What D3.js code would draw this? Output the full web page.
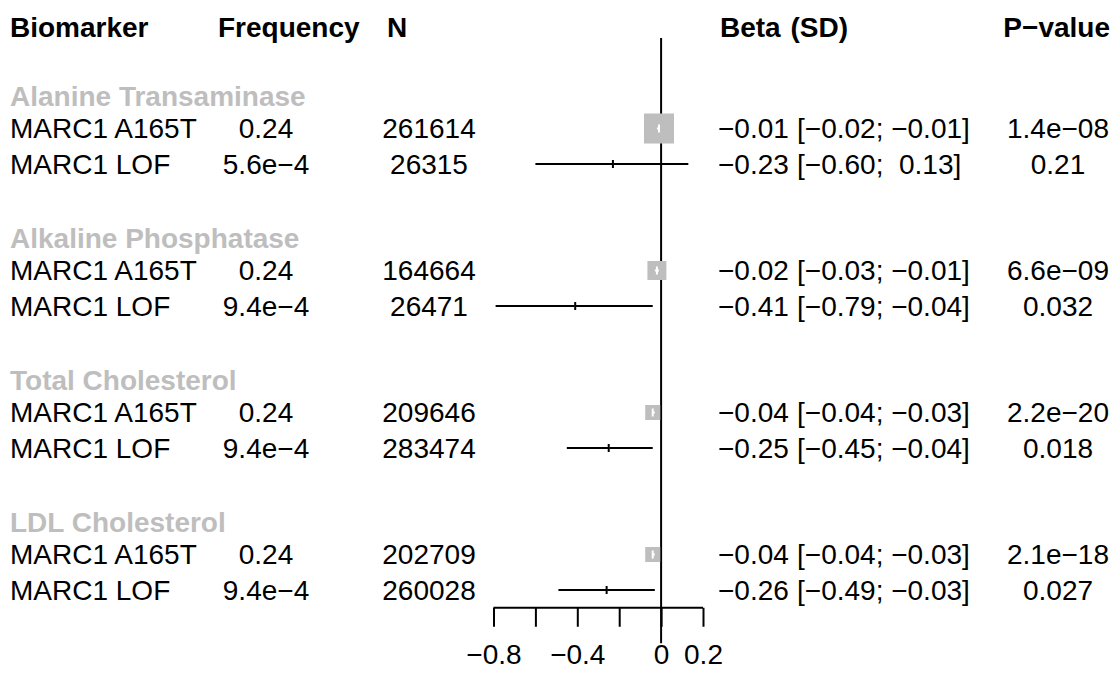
<!DOCTYPE html>
<html>
<head>
<meta charset="utf-8">
<script src="https://cdn.jsdelivr.net/npm/d3@7"></script>
<style>
  html, body { margin: 0; padding: 0; background: #fff; }
  svg text { font-family: "Liberation Sans", Arial, Helvetica, sans-serif; white-space: pre; }
</style>
</head>
<body>
<svg id="chart" width="1119" height="677"></svg>
<script>
// ---------- data ----------
const headers = ["Biomarker", "Frequency", "N", "Beta", "(SD)", "P\u2212value"];
const groups = ["Alanine Transaminase", "Alkaline Phosphatase", "Total Cholesterol", "LDL Cholesterol"];
const variants = ["MARC1 A165T", "MARC1 LOF"];
const freq = ["0.24", "5.6e\u22124", "0.24", "9.4e\u22124", "0.24", "9.4e\u22124", "0.24", "9.4e\u22124"];
const nObs = [261614, 26315, 164664, 26471, 209646, 283474, 202709, 260028];
const beta = [-0.01, -0.23, -0.02, -0.41, -0.04, -0.25, -0.04, -0.26];
const lower = [-0.02, -0.60, -0.03, -0.79, -0.04, -0.45, -0.04, -0.49];
const upper = [-0.01, 0.13, -0.01, -0.04, -0.03, -0.04, -0.03, -0.03];
const pval = ["1.4e\u221208", "0.21", "6.6e\u221209", "0.032", "2.2e\u221220", "0.018", "2.1e\u221218", "0.027"];
const weight = [1, 0.001, 0.40, 0.001, 0.25, 0.001, 0.25, 0.001];
const axisTicks = [-0.8, -0.6, -0.4, -0.2, 0, 0.2];
const axisLabels = [-0.8, -0.4, 0, 0.2];

// ---------- layout ----------
const svg = d3.select("#chart");
const FS = 28;
const rowH = 35.5, y0 = 22;
const yRow = r => y0 + r * rowH;
const x = d3.scaleLinear().domain([-0.8, 0.2]).range([493.5, 703]);
const boxSize = d3.scaleSqrt().domain([0, 1]).range([0, 30]);
const grey = "#bebebe";
const fmtNum = v => (v < 0 ? "\u2212" : "") + Math.abs(v).toFixed(2);

// build row list
const rows = [];
groups.forEach((g, gi) => {
  const base = 2 + gi * 4;
  rows.push({type: "group", label: g, r: base});
  variants.forEach((v, vi) => {
    const i = gi * 2 + vi;
    rows.push({type: "study", i, label: v, r: base + 1 + vi});
  });
});
const studies = rows.filter(d => d.type === "study");

const colX = {bio: 10, freq: 266, n: 429, beta: 718, ci: 797, p: 1058};

// headers
const hy = yRow(0) + 5;
const hdr = svg.append("g").attr("font-weight", "bold").attr("font-size", FS);
hdr.append("text").attr("x", colX.bio).attr("y", hy).attr("dy", "0.35em").text(headers[0]);
hdr.append("text").attr("x", 218).attr("y", hy).attr("dy", "0.35em").text(headers[1]);
hdr.append("text").attr("x", 397).attr("y", hy).attr("dy", "0.35em").attr("text-anchor", "middle").text(headers[2]);
hdr.append("text").attr("x", 720).attr("y", hy).attr("dy", "0.35em").text(headers[3]);
hdr.append("text").attr("x", 848).attr("y", hy).attr("dy", "0.35em").attr("text-anchor", "end").text(headers[4]);
hdr.append("text").attr("x", 1110).attr("y", hy).attr("dy", "0.35em").attr("text-anchor", "end").text(headers[5]);

// group labels
svg.append("g").selectAll("text").data(rows.filter(d => d.type === "group")).join("text")
  .attr("x", colX.bio).attr("y", d => yRow(d.r) + 3).attr("dy", "0.35em")
  .attr("font-size", FS).attr("font-weight", "bold").attr("fill", grey)
  .text(d => d.label);

// study text columns
const tg = svg.append("g").attr("font-size", FS);
tg.selectAll("text.lab").data(studies).join("text").attr("class", "lab")
  .attr("x", colX.bio).attr("y", d => yRow(d.r)).attr("dy", "0.35em").text(d => d.label);
tg.selectAll("text.freq").data(studies).join("text").attr("class", "freq")
  .attr("x", colX.freq).attr("y", d => yRow(d.r)).attr("dy", "0.35em").attr("text-anchor", "middle")
  .text(d => freq[d.i]);
tg.selectAll("text.n").data(studies).join("text").attr("class", "n")
  .attr("x", colX.n).attr("y", d => yRow(d.r)).attr("dy", "0.35em").attr("text-anchor", "middle")
  .text(d => nObs[d.i]);
tg.selectAll("text.beta").data(studies).join("text").attr("class", "beta")
  .attr("x", colX.beta).attr("y", d => yRow(d.r)).attr("dy", "0.35em")
  .text(d => fmtNum(beta[d.i]));
tg.selectAll("text.ci").data(studies).join("text").attr("class", "ci")
  .attr("x", colX.ci).attr("y", d => yRow(d.r)).attr("dy", "0.35em")
  .text(d => {
    const lo = fmtNum(lower[d.i]), hi = fmtNum(upper[d.i]);
    return "[" + lo + ";" + (upper[d.i] < 0 ? " " : "  ") + hi + "]";
  });
tg.selectAll("text.p").data(studies).join("text").attr("class", "p")
  .attr("x", colX.p).attr("y", d => yRow(d.r)).attr("dy", "0.35em").attr("text-anchor", "middle")
  .text(d => pval[d.i]);

// reference line
svg.append("line").attr("x1", x(0)).attr("x2", x(0))
  .attr("y1", yRow(0.45)).attr("y2", yRow(17.5))
  .attr("stroke", "#000").attr("stroke-width", 2);

// CI lines
const pg = svg.append("g");
pg.selectAll("line.ci").data(studies).join("line").attr("class", "ci")
  .attr("x1", d => x(lower[d.i])).attr("x2", d => x(upper[d.i]))
  .attr("y1", d => yRow(d.r)).attr("y2", d => yRow(d.r))
  .attr("stroke", "#000").attr("stroke-width", 2);
// boxes
pg.selectAll("rect.box").data(studies).join("rect").attr("class", "box")
  .attr("x", d => x(beta[d.i]) - boxSize(weight[d.i]) / 2)
  .attr("y", d => yRow(d.r) - boxSize(weight[d.i]) / 2)
  .attr("width", d => boxSize(weight[d.i])).attr("height", d => boxSize(weight[d.i]))
  .attr("fill", grey);
// white CI segment inside box
pg.selectAll("line.inner").data(studies).join("line").attr("class", "inner")
  .attr("x1", d => Math.max(x(lower[d.i]), x(beta[d.i]) - boxSize(weight[d.i]) / 2))
  .attr("x2", d => Math.min(x(upper[d.i]), x(beta[d.i]) + boxSize(weight[d.i]) / 2))
  .attr("y1", d => yRow(d.r)).attr("y2", d => yRow(d.r))
  .attr("stroke", "#fff").attr("stroke-width", 2);
// estimate tick
pg.selectAll("line.est").data(studies).join("line").attr("class", "est")
  .attr("x1", d => x(beta[d.i])).attr("x2", d => x(beta[d.i]))
  .attr("y1", d => yRow(d.r) - 4).attr("y2", d => yRow(d.r) + 4)
  .attr("stroke", d => boxSize(weight[d.i]) > 8 ? "#fff" : "#000").attr("stroke-width", 2);

// axis
const axis = d3.axisBottom(x).tickValues(axisTicks).tickSize(19).tickPadding(17)
  .tickFormat(v => axisLabels.some(l => Math.abs(l - v) < 1e-9) ? (v < 0 ? "\u2212" : "") + d3.format("")(Math.abs(v)) : "");
const ag = svg.append("g").attr("transform", `translate(0,${yRow(16.5)})`).call(axis);
ag.select(".domain").attr("stroke", "#000").attr("stroke-width", 2).attr("d", `M${x(-0.8)},0H${x(0.2)}`);
ag.selectAll(".tick line").attr("stroke", "#000").attr("stroke-width", 2);
ag.selectAll(".tick text").attr("font-size", FS).attr("fill", "#000")
  .attr("font-family", "Liberation Sans, Arial, sans-serif");
</script>
</body>
</html>
